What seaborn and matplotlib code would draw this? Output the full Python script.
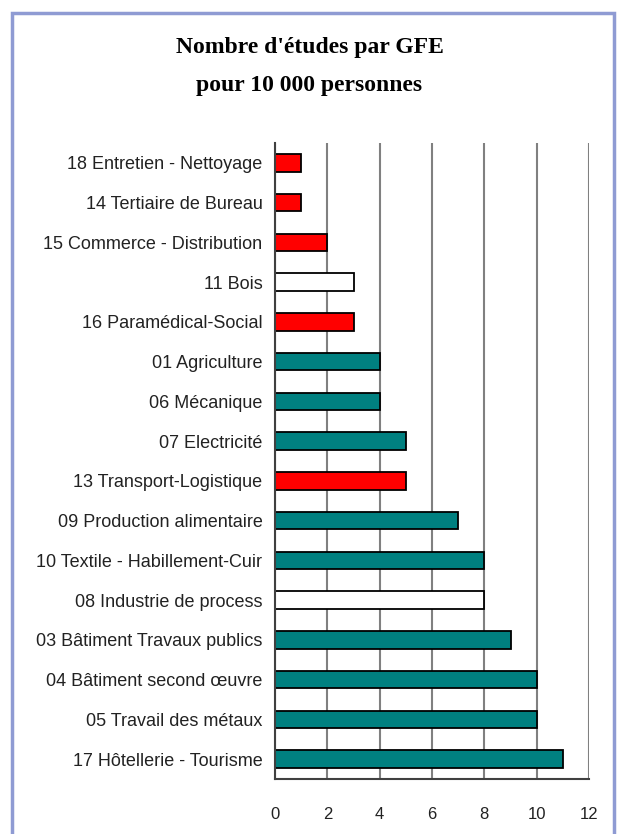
"""
Nombre d'études par GFE pour 10 000 personnes - horizontal bar chart
"""
import numpy as np
import pandas as pd
import matplotlib
matplotlib.use('Agg')
import matplotlib.pyplot as plt
import matplotlib.patches as mpatches
from matplotlib.ticker import FixedLocator
import seaborn as sns

# Data (top to bottom)
categories = [
    '18 Entretien - Nettoyage',
    '14 Tertiaire de Bureau',
    '15 Commerce - Distribution',
    '11 Bois',
    '16 Paramédical-Social',
    '01 Agriculture',
    '06 Mécanique',
    '07 Electricité',
    '13 Transport-Logistique',
    '09 Production alimentaire',
    '10 Textile - Habillement-Cuir',
    '08 Industrie de process',
    '03 Bâtiment Travaux publics',
    '04 Bâtiment second œuvre',
    '05 Travail des métaux',
    '17 Hôtellerie - Tourisme',
]
values = [1, 1, 2, 3, 3, 4, 4, 5, 5, 7, 8, 8, 9, 10, 10, 11]
groups = ['red', 'red', 'red', 'white', 'red', 'teal', 'teal', 'teal', 'red',
          'teal', 'teal', 'white', 'teal', 'teal', 'teal', 'teal']
x_ticks = [0, 2, 4, 6, 8, 10, 12]

group_colors = {'red': '#FF0000', 'white': '#FFFFFF', 'teal': '#008080'}

df = pd.DataFrame({'cat': categories, 'val': values, 'grp': groups})

sns.set_style('white')
plt.rcParams['font.family'] = ['Liberation Sans', 'DejaVu Sans']

fig = plt.figure(figsize=(6.19, 8.34), dpi=100)
ax = fig.add_axes([275 / 619, 1 - 779 / 834, (589 - 275) / 619, (779 - 143) / 834])

# gridlines first so bars sit on top
ax.set_axisbelow(True)
ax.grid(axis='x', color='#808080', linewidth=1.5)
ax.grid(axis='y', visible=False)

sns.barplot(data=df, x='val', y='cat', hue='cat',
            palette=[group_colors[g] for g in groups], legend=False,
            orient='h', width=0.44, saturation=1, edgecolor='black',
            linewidth=1.3, ax=ax)

ax.set_xlim(0, 12)
ax.set_ylim(len(categories) - 0.5, -0.5)
ax.xaxis.set_major_locator(FixedLocator(x_ticks))
ax.set_xticklabels([str(t) for t in x_ticks], fontsize=12, color='#222222')
ax.set_xlabel('')
ax.set_ylabel('')
ax.tick_params(axis='x', direction='out', length=6, width=1.2, color='#404040', pad=14)

# y ticks between categories
ax.set_yticks(range(len(categories)))
ax.set_yticklabels(categories, fontsize=13, color='#222222')
ax.yaxis.set_minor_locator(FixedLocator(np.arange(-0.5, len(categories), 1.0)))
ax.tick_params(axis='y', which='major', length=0, pad=9)
ax.tick_params(axis='y', which='minor', direction='out', length=6, width=1.2, color='#404040')

for side in ['top', 'right']:
    ax.spines[side].set_visible(False)
for side in ['left', 'bottom']:
    ax.spines[side].set_color('#404040')
    ax.spines[side].set_linewidth(1.5)

fig.text(0.5, 1 - 48 / 834, "Nombre d'études par GFE", ha='center', va='center',
         fontsize=17, fontweight='bold', family='Liberation Serif', color='black')
fig.text(0.5, 1 - 85 / 834, 'pour 10 000 personnes', ha='center', va='center',
         fontsize=17, fontweight='bold', family='Liberation Serif', color='black')

# blue frame round the chart
frame = mpatches.Rectangle((12 / 619, -0.05), (614 - 12) / 619, 1.05 - 13 / 834,
                           transform=fig.transFigure, fill=False,
                           edgecolor='#8F9BD3', linewidth=2.5)
fig.patches.append(frame)

fig.savefig('out.png', dpi=100, facecolor='white')
